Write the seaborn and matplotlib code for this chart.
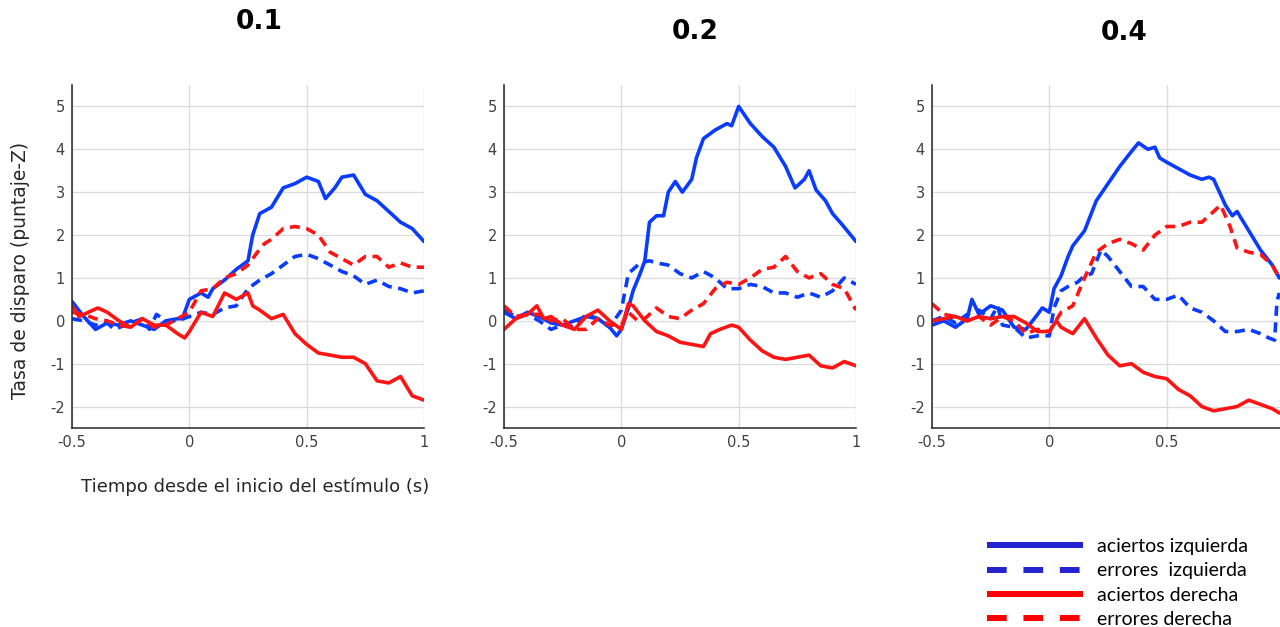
import numpy as np
import pandas as pd
import matplotlib
matplotlib.use("Agg")
import matplotlib.pyplot as plt
from matplotlib.lines import Line2D
import seaborn as sns

# ---- data: z-scored firing rate vs. time from stimulus onset ----
panel_titles = ["0.1", "0.2", "0.4"]
x_ticks = [-0.5, 0, 0.5, 1]
x_tick_labels = ["-0.5", "0", "0.5", "1"]
y_ticks = [-2, -1, 0, 1, 2, 3, 4, 5]
series_labels = ["aciertos izquierda", "errores  izquierda",
                 "aciertos derecha", "errores derecha"]

# panel 0.1
p1_hit_left_t = [-0.5, -0.45, -0.4, -0.35, -0.3, -0.25, -0.2, -0.15, -0.1, -0.05, -0.03, 0.0, 0.05, 0.08, 0.1, 0.15, 0.2, 0.25, 0.27, 0.3, 0.35, 0.4, 0.45, 0.5, 0.55, 0.58, 0.62, 0.65, 0.7, 0.75, 0.8, 0.85, 0.9, 0.95, 1.0]
p1_hit_left_v = [0.45, 0.1, -0.2, -0.05, -0.1, 0.0, -0.1, -0.2, 0.0, 0.05, 0.05, 0.5, 0.65, 0.55, 0.75, 0.95, 1.2, 1.4, 2.0, 2.5, 2.65, 3.1, 3.2, 3.35, 3.25, 2.85, 3.1, 3.35, 3.4, 2.95, 2.8, 2.55, 2.3, 2.15, 1.85]
p1_err_left_t = [-0.5, -0.45, -0.4, -0.35, -0.32, -0.25, -0.2, -0.17, -0.14, -0.1, -0.05, 0.0, 0.05, 0.1, 0.15, 0.2, 0.25, 0.3, 0.35, 0.4, 0.45, 0.5, 0.55, 0.6, 0.65, 0.7, 0.75, 0.8, 0.85, 0.9, 0.95, 1.0]
p1_err_left_v = [0.05, 0.0, -0.1, -0.05, -0.2, -0.05, 0.05, -0.2, 0.15, 0.0, 0.0, 0.1, 0.2, 0.15, 0.3, 0.35, 0.75, 0.95, 1.1, 1.3, 1.5, 1.55, 1.45, 1.3, 1.15, 1.05, 0.85, 0.95, 0.8, 0.75, 0.65, 0.7]
p1_hit_right_t = [-0.5, -0.47, -0.45, -0.39, -0.35, -0.3, -0.25, -0.2, -0.15, -0.1, -0.05, -0.02, 0.0, 0.05, 0.1, 0.15, 0.2, 0.25, 0.27, 0.3, 0.35, 0.4, 0.45, 0.5, 0.55, 0.6, 0.65, 0.7, 0.75, 0.8, 0.85, 0.9, 0.95, 1.0]
p1_hit_right_v = [0.35, 0.1, 0.15, 0.3, 0.2, 0.0, -0.15, 0.05, -0.1, -0.1, -0.3, -0.4, -0.25, 0.2, 0.1, 0.65, 0.5, 0.65, 0.35, 0.25, 0.05, 0.15, -0.3, -0.55, -0.75, -0.8, -0.85, -0.85, -1.0, -1.4, -1.45, -1.3, -1.75, -1.85]
p1_err_right_t = [-0.5, -0.45, -0.4, -0.35, -0.3, -0.25, -0.2, -0.15, -0.1, -0.05, 0.0, 0.05, 0.1, 0.15, 0.2, 0.25, 0.29, 0.32, 0.35, 0.4, 0.45, 0.5, 0.55, 0.6, 0.65, 0.7, 0.75, 0.8, 0.85, 0.9, 0.95, 1.0]
p1_err_right_v = [0.2, 0.15, 0.05, 0.0, -0.1, -0.15, 0.05, -0.15, -0.1, 0.05, 0.2, 0.7, 0.75, 1.0, 1.1, 1.3, 1.6, 1.8, 1.9, 2.15, 2.2, 2.15, 2.0, 1.6, 1.45, 1.3, 1.5, 1.5, 1.25, 1.35, 1.25, 1.25]

# panel 0.2
p2_hit_left_t = [-0.5, -0.45, -0.4, -0.35, -0.3, -0.25, -0.2, -0.15, -0.1, -0.05, -0.02, 0.0, 0.03, 0.05, 0.08, 0.1, 0.12, 0.15, 0.18, 0.2, 0.23, 0.26, 0.3, 0.32, 0.35, 0.4, 0.45, 0.47, 0.5, 0.55, 0.6, 0.65, 0.7, 0.74, 0.78, 0.8, 0.83, 0.87, 0.9, 0.94, 1.0]
p2_hit_left_v = [0.2, 0.05, 0.2, 0.1, -0.05, -0.1, 0.0, 0.1, 0.05, -0.15, -0.35, -0.2, 0.3, 0.7, 1.1, 1.4, 2.3, 2.45, 2.45, 3.0, 3.25, 3.0, 3.3, 3.8, 4.25, 4.45, 4.6, 4.55, 5.0, 4.6, 4.3, 4.05, 3.6, 3.1, 3.3, 3.5, 3.05, 2.8, 2.5, 2.25, 1.85]
p2_err_left_t = [-0.5, -0.45, -0.4, -0.35, -0.3, -0.25, -0.2, -0.15, -0.1, -0.05, 0.0, 0.03, 0.08, 0.12, 0.15, 0.2, 0.25, 0.3, 0.35, 0.4, 0.45, 0.5, 0.55, 0.6, 0.65, 0.7, 0.75, 0.8, 0.85, 0.9, 0.95, 1.0]
p2_err_left_v = [0.25, 0.1, 0.15, 0.0, -0.2, -0.1, -0.15, 0.15, 0.05, -0.15, 0.25, 1.1, 1.35, 1.4, 1.35, 1.3, 1.1, 1.0, 1.15, 1.0, 0.75, 0.75, 0.85, 0.8, 0.65, 0.65, 0.55, 0.65, 0.55, 0.7, 1.0, 0.85]
p2_hit_right_t = [-0.5, -0.45, -0.4, -0.36, -0.33, -0.3, -0.25, -0.2, -0.15, -0.1, -0.05, 0.0, 0.03, 0.05, 0.1, 0.15, 0.2, 0.25, 0.3, 0.35, 0.38, 0.42, 0.47, 0.5, 0.55, 0.6, 0.65, 0.7, 0.75, 0.8, 0.85, 0.9, 0.95, 1.0]
p2_hit_right_v = [-0.2, 0.05, 0.15, 0.35, 0.05, 0.1, -0.1, -0.2, 0.1, 0.25, 0.0, -0.2, 0.4, 0.35, 0.0, -0.25, -0.35, -0.5, -0.55, -0.6, -0.3, -0.2, -0.1, -0.15, -0.45, -0.7, -0.85, -0.9, -0.85, -0.8, -1.05, -1.1, -0.95, -1.05]
p2_err_right_t = [-0.5, -0.45, -0.4, -0.35, -0.3, -0.25, -0.2, -0.15, -0.1, -0.05, 0.0, 0.03, 0.07, 0.1, 0.15, 0.2, 0.25, 0.3, 0.35, 0.4, 0.45, 0.5, 0.55, 0.6, 0.65, 0.7, 0.75, 0.8, 0.85, 0.9, 0.95, 1.0]
p2_err_right_v = [0.35, 0.1, 0.15, 0.15, 0.0, 0.05, -0.2, -0.2, 0.05, -0.1, -0.1, 0.2, 0.0, 0.05, 0.3, 0.1, 0.05, 0.25, 0.4, 0.75, 0.9, 0.85, 1.0, 1.2, 1.25, 1.5, 1.15, 1.0, 1.1, 0.85, 0.75, 0.25]

# panel 0.4 (recording ends just before 1 s)
p3_hit_left_t = [-0.5, -0.45, -0.4, -0.35, -0.33, -0.3, -0.25, -0.2, -0.15, -0.1, -0.05, -0.03, 0.0, 0.02, 0.05, 0.08, 0.1, 0.15, 0.2, 0.25, 0.3, 0.35, 0.38, 0.42, 0.45, 0.47, 0.5, 0.55, 0.6, 0.65, 0.68, 0.7, 0.75, 0.78, 0.8, 0.85, 0.9, 0.95, 0.98]
p3_hit_left_v = [-0.1, 0.0, -0.15, 0.05, 0.5, 0.15, 0.35, 0.25, -0.15, -0.2, 0.15, 0.3, 0.2, 0.75, 1.05, 1.5, 1.75, 2.1, 2.8, 3.2, 3.6, 3.95, 4.15, 4.0, 4.05, 3.8, 3.7, 3.55, 3.4, 3.3, 3.35, 3.3, 2.7, 2.45, 2.55, 2.1, 1.65, 1.3, 1.0]
p3_err_left_t = [-0.5, -0.45, -0.4, -0.35, -0.3, -0.25, -0.22, -0.2, -0.15, -0.1, -0.05, 0.0, 0.02, 0.05, 0.08, 0.12, 0.15, 0.18, 0.22, 0.25, 0.3, 0.35, 0.4, 0.45, 0.5, 0.55, 0.6, 0.65, 0.7, 0.75, 0.8, 0.85, 0.9, 0.935, 0.96, 0.97, 0.98]
p3_err_left_v = [0.0, 0.1, -0.05, 0.15, 0.25, 0.05, 0.35, -0.1, -0.15, -0.4, -0.35, -0.35, 0.3, 0.7, 0.8, 0.9, 1.05, 1.1, 1.65, 1.5, 1.15, 0.8, 0.8, 0.5, 0.5, 0.6, 0.3, 0.2, 0.0, -0.25, -0.25, -0.2, -0.3, -0.4, -0.45, 0.45, 0.65]
p3_hit_right_t = [-0.5, -0.45, -0.4, -0.35, -0.3, -0.25, -0.2, -0.15, -0.1, -0.05, 0.0, 0.03, 0.05, 0.1, 0.15, 0.2, 0.25, 0.3, 0.35, 0.4, 0.45, 0.5, 0.55, 0.6, 0.65, 0.7, 0.75, 0.8, 0.85, 0.9, 0.95, 0.98]
p3_hit_right_v = [0.0, 0.05, 0.1, 0.0, 0.1, 0.05, 0.1, 0.1, -0.05, -0.25, -0.25, 0.0, -0.15, -0.3, 0.05, -0.4, -0.8, -1.05, -1.0, -1.2, -1.3, -1.35, -1.6, -1.75, -2.0, -2.1, -2.05, -2.0, -1.85, -1.95, -2.05, -2.15]
p3_err_right_t = [-0.5, -0.45, -0.4, -0.35, -0.3, -0.25, -0.2, -0.15, -0.1, -0.05, 0.0, 0.05, 0.1, 0.15, 0.2, 0.25, 0.3, 0.35, 0.4, 0.45, 0.5, 0.55, 0.6, 0.65, 0.7, 0.73, 0.77, 0.8, 0.85, 0.9, 0.95, 0.98]
p3_err_right_v = [0.4, 0.15, 0.1, 0.0, 0.1, -0.1, 0.1, 0.0, -0.3, -0.2, -0.25, 0.2, 0.35, 1.0, 1.6, 1.8, 1.9, 1.8, 1.65, 2.0, 2.2, 2.2, 2.3, 2.3, 2.55, 2.7, 2.2, 1.7, 1.6, 1.55, 1.3, 1.0]

panels = [
    [(p1_hit_left_t, p1_hit_left_v), (p1_err_left_t, p1_err_left_v),
     (p1_hit_right_t, p1_hit_right_v), (p1_err_right_t, p1_err_right_v)],
    [(p2_hit_left_t, p2_hit_left_v), (p2_err_left_t, p2_err_left_v),
     (p2_hit_right_t, p2_hit_right_v), (p2_err_right_t, p2_err_right_v)],
    [(p3_hit_left_t, p3_hit_left_v), (p3_err_left_t, p3_err_left_v),
     (p3_hit_right_t, p3_hit_right_v), (p3_err_right_t, p3_err_right_v)],
]

# ---- styling ----
sns.set_theme(style="white")
plt.rcParams["font.family"] = ["DejaVu Sans"]
plt.rcParams["axes.unicode_minus"] = False

BLUE = "#0a3cff"
RED = "#ff1414"
LEG_BLUE = "#2323d2"
LEG_RED = "#ff0000"
line_colors = [BLUE, BLUE, RED, RED]
line_dashed = [False, True, False, True]
legend_colors = [LEG_BLUE, LEG_BLUE, LEG_RED, LEG_RED]

W, H = 1280, 627
fig = plt.figure(figsize=(W / 100, H / 100), dpi=100)
fig.patch.set_facecolor("white")

# axes placement in pixels: left, right edges; top/bottom shared
ax_lr = [(72, 424), (504, 856), (932, 1284)]
ax_top, ax_bot = 85, 428
title_pos = [(259, 22), (695, 32), (1124, 33)]

for i, (curves, (l, r)) in enumerate(zip(panels, ax_lr)):
    ax = fig.add_axes([l / W, 1 - ax_bot / H, (r - l) / W, (ax_bot - ax_top) / H])
    for (t, v), c, dashed in zip(curves, line_colors, line_dashed):
        df = pd.DataFrame({"t": t, "v": v})
        sns.lineplot(data=df, x="t", y="v", ax=ax, color=c, lw=2.6,
                     estimator=None, sort=False,
                     dashes=False, linestyle=(0, (2.8, 1.8)) if dashed else "-")
    ax.set_xlim(-0.5, 1.0)
    ax.set_ylim(-2.5, 5.5)
    ax.set_xticks(x_ticks)
    # the last panel is clipped at the right figure edge, so its "1" is not shown
    ax.set_xticklabels(x_tick_labels if i < 2 else x_tick_labels[:-1] + [""])
    ax.set_yticks(y_ticks)
    ax.set_xlabel("")
    ax.set_ylabel("")
    ax.grid(True, color="#dcdcdc", lw=1.0)
    ax.set_axisbelow(True)
    for s in ["top", "right"]:
        ax.spines[s].set_visible(False)
    for s in ["left", "bottom"]:
        ax.spines[s].set_color("#262626")
        ax.spines[s].set_linewidth(1.1)
    ax.tick_params(axis="both", which="both", direction="in", length=3,
                   width=0.8, color="#262626", labelsize=10.5,
                   labelcolor="#404040", pad=5)
    tx, ty = title_pos[i]
    fig.text(tx / W, 1 - ty / H, panel_titles[i], ha="center", va="center",
             fontsize=19, fontweight="bold", color="black")

fig.text(21 / W, 1 - 270 / H, "Tasa de disparo (puntaje-Z)", rotation=90,
         ha="center", va="center", fontsize=13.5, color="#262626")
fig.text(255 / W, 1 - 487 / H, "Tiempo desde el inicio del estímulo (s)",
         ha="center", va="center", fontsize=13, color="#262626")

# legend
handles = [Line2D([0], [0], color=c, lw=4.3,
                  linestyle=(0, (3.3, 2.8)) if d else "-",
                  solid_capstyle="butt", dash_capstyle="butt")
           for c, d in zip(legend_colors, line_dashed)]
fig.legend(handles, series_labels, loc="upper left",
           bbox_to_anchor=(987 / W, 1 - 538 / H), frameon=False,
           handlelength=4.95, handletextpad=0.72, labelspacing=0.38,
           prop={"family": "Lato", "size": 14}, labelcolor="black",
           borderpad=0, borderaxespad=0)

fig.savefig("out.png", dpi=100, facecolor="white")
